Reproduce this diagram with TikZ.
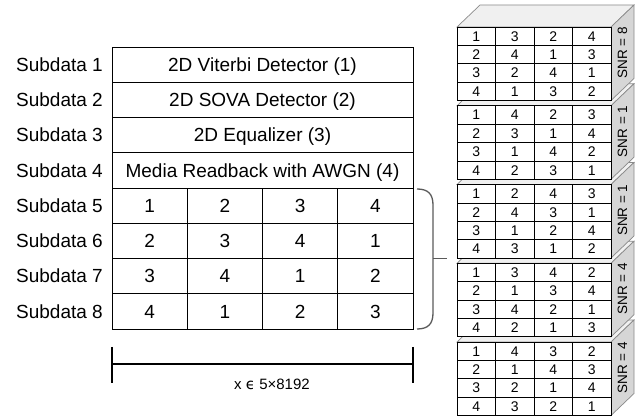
\documentclass[tikz,border=0pt]{standalone}
\usepackage{fontspec}
\setmainfont{Liberation Sans}
\newfontfamily\djv{DejaVu Sans}
\definecolor{edgegray}{HTML}{8A8A8A}
\definecolor{sidegray}{HTML}{D6D6D6}
\definecolor{topgray}{HTML}{F0F0F0}
\definecolor{bracegray}{HTML}{5A5A5A}
\tikzset{
  lbl/.style={anchor=east, inner sep=0pt, text height=13.6pt, text depth=0pt, font=\fontsize{19}{19}\selectfont},
  bigcell/.style={draw, line width=0.9pt, minimum width=301pt, minimum height=35.25pt, inner sep=0pt, text height=13.6pt, text depth=0pt, font=\fontsize{19}{19}\selectfont},
  cell/.style={draw, line width=0.9pt, minimum width=75.25pt, minimum height=35.25pt, inner sep=0pt, text height=13.6pt, text depth=0pt, font=\fontsize{19}{19}\selectfont},
  rcell/.style={draw, line width=0.7pt, fill=white, minimum width=38.5pt, minimum height=18.375pt, inner sep=0pt, text height=10pt, text depth=0pt, font=\fontsize{14}{14}\selectfont},
  topface/.style={fill=topgray, draw=edgegray, line width=0.7pt},
  sideface/.style={fill=sidegray, draw=edgegray, line width=0.7pt},
  snrlbl/.style={rotate=90, inner sep=0pt, font=\fontsize{13.5}{13.5}\selectfont},
}
% #1 index, #2 top y, #3 snr, #4-#7 rows
\newcommand\mycube[7]{%
  \draw[topface] (457,#2) -- (480,#2-22) -- (634,#2-22) -- (611,#2) -- cycle;
  \draw[sideface] (611,#2) -- (634,#2-22) -- (634,#2+51.5) -- (611,#2+73.5) -- cycle;
  \node[snrlbl] (snr#1) at (622.5,#2+25.75) {SNR = #3};
  \foreach \v [count=\c] in {#4} {\node[rcell] (b#1-1-\c) at ({457+38.5*(\c-0.5)},{#2+9.1875}) {\v};}
  \foreach \v [count=\c] in {#5} {\node[rcell] (b#1-2-\c) at ({457+38.5*(\c-0.5)},{#2+27.5625}) {\v};}
  \foreach \v [count=\c] in {#6} {\node[rcell] (b#1-3-\c) at ({457+38.5*(\c-0.5)},{#2+45.9375}) {\v};}
  \foreach \v [count=\c] in {#7} {\node[rcell] (b#1-4-\c) at ({457+38.5*(\c-0.5)},{#2+64.3125}) {\v};}
}
\begin{document}
\begin{tikzpicture}[x=1pt,y=-1pt]
\useasboundingbox (0,0) rectangle (640,419);
% left labels
\foreach \i in {1,...,8} {
  \node[lbl] (sub\i) at (103,{47+35.25*(\i-0.5)}) {Subdata \i};
}
% merged rows
\node[bigcell] (r1) at (262.5,64.625) {2D Viterbi Detector (1)};
\node[bigcell] (r2) at (262.5,99.875) {2D SOVA Detector (2)};
\node[bigcell] (r3) at (262.5,135.125) {2D Equalizer (3)};
\node[bigcell] (r4) at (262.5,170.375) {Media Readback with AWGN (4)};
% grid rows
\foreach \row/\vals in {5/{1,2,3,4},6/{2,3,4,1},7/{3,4,1,2},8/{4,1,2,3}} {
  \foreach \v [count=\c] in \vals {
    \node[cell] (c\row-\c) at ({112+75.25*(\c-0.5)},{47+35.25*(\row-0.5)}) {\v};
  }
}
% brace
\coordinate (bt) at (417,189);
\coordinate (bb) at (417,329);
\coordinate (bm) at (433,258.5);
\coordinate (btip) at (447,258.5);
\draw[bracegray, line width=1.3pt] (bt) .. controls (428,189) and (433,194) .. (433,205) -- (433,313) .. controls (433,324) and (428,329) .. (bb);
\draw[bracegray, line width=1.3pt] (bm) -- (btip);
% dimension line
\coordinate (dl) at (112,364);
\coordinate (dr) at (413,364);
\draw[line width=1.6pt] (dl) -- (dr);
\draw[line width=1.6pt] (112,347) -- (112,383);
\draw[line width=1.6pt] (413,347) -- (413,383);
\node[font=\fontsize{15}{15}\selectfont, inner sep=0pt] (dimtext) at (272,384) {x {\djv ϵ} 5×8192};
% cubes, bottom first
\mycube{5}{342}{4}{1,4,3,2}{2,1,4,3}{3,2,1,4}{4,3,2,1}
\mycube{4}{263.25}{4}{1,3,4,2}{2,1,3,4}{3,4,2,1}{4,2,1,3}
\mycube{3}{184.5}{1}{1,2,4,3}{2,4,3,1}{3,1,2,4}{4,3,1,2}
\mycube{2}{105.75}{1}{1,4,2,3}{2,3,1,4}{3,1,4,2}{4,2,3,1}
\mycube{1}{27}{8}{1,3,2,4}{2,4,1,3}{3,2,4,1}{4,1,3,2}
\end{tikzpicture}
\end{document}
